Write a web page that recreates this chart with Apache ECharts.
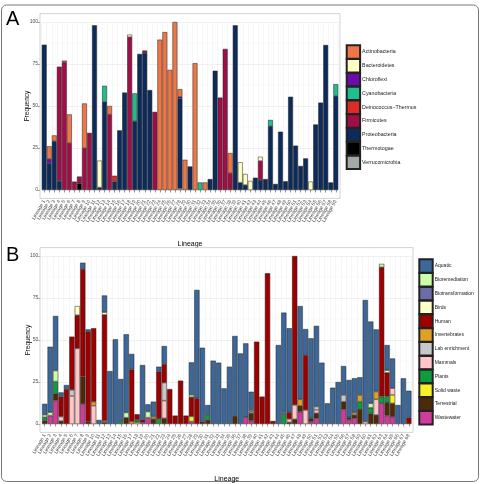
<!DOCTYPE html>
<html><head><meta charset="utf-8">
<script src="https://cdn.jsdelivr.net/npm/echarts@6/dist/echarts.min.js"></script>
<style>html,body{margin:0;padding:0;background:#fff}#c{width:481px;height:484px}</style>
</head><body><div id="c"></div>
<script>
// ---------- Panel A data (59 lineages) ----------
const categoriesA = Array.from({length: 59}, (_, i) => 'Lineage ' + (i + 1));
const phylaA = ['Actinobacteria','Bacteroidetes','Chloroflexi','Cyanobacteria','Deinococcus\u2212Thermus','Firmicutes','Proteobacteria','Thermotogae','Verrucomicrobia'];
const colorsA = ['#EF7747','#FFFFC4','#6E0CAA','#1FBE8F','#DF2A26','#A00D47','#0C2B5B','#000000','#A3A9A9'];
const actinobacteria = [0,7.5,3.5,0,1,17,0,0,26.5,0, 0,0,0,5,0,0,0,0,0,0, 0,0,0,89.5,94,71.5,100,4.5,18,0, 75.5,0,4.5,0,0,0,0,12,0,0, 0,0,0,0,0,0,0,0,0,0, 0,0,0,0,0,0,0,0,0];
const bacteroidetes = [0,0,0,0,0,0,0,0,0,0, 0,16,0,0,0,0,0,1.5,0,0, 0,0,0,0,0,0,0,0,0,0, 0,0,0,0,0,0,0,0,0,12.1, 6.5,5.4,0,2.5,0,0,0,0,0,0, 0,0,0,5,0,0,0,0,0];
const chloroflexi = [0,2.5,0,0,0,0,0,0,0,0, 0,0,0,0,0,0,0,0,0,0, 0,0,0,0,0,0,0,1,0,0, 0,0,0,0,0,0,0,0,0,0, 0,0,0,0,0,0,0,0,0,0, 0,0,0,0,0,0,0,0,0];
const cyanobacteria = [0,0,0,0,0,0,0,0,0,0, 0,0,9.5,0,0,0,0,0,16.5,0, 0,0,0,0,0,0,0,0,0,0, 0,4.5,0,0,0,0,0,0,0,0, 0,0,0,0,0,3.7,0,0,0,0, 0,0,0,0,0,0,0,0,7];
const deinococcus = [0,0,0,0,0,0,0,0,0,0, 0,0,0,0,3.5,0,0,0,0,0, 0,0,0,0,0,0,0,0,0,0, 0,0,0,0,0,0,0,0,0,0, 0,0,0,0,0,0,0,0,0,0, 0,0,0,0,0,0,0,0,0];
const firmicutes = [0,0,0,68,76,28,5,4,25,34, 0,0,0,45,0,0,0,91,0,0, 1.5,0,46.5,0,0,0,0,0,0,0, 0,0,0,0,0,55,84,10,0,0, 0,0,0,11.3,0,0,0,0,0,0, 0,0,0,0,0,0,0,0,0];
const proteobacteria = [86.5,16,29,5.4,0,0,0,0,0,0, 98,1.5,52.5,0,5,35.5,58,0,41,81, 81.5,59.5,0,0,0,0,0,53.5,0,14, 0,0,0,6.5,71,0,0,0,98,4.4, 3,0,7.3,6,6.5,38,3.6,34.7,5.2,55.5, 26.4,14.3,18.8,0,39,52,86.3,4.5,56];
const thermotogae = [0,0,0,0,0,0,0,4,0,0, 0,0,0,0,0,0,0,0,0,0, 0,0,0,0,0,0,0,0,0,0, 0,0,0,0,0,0,0,0,0,0, 0,0,0,0,0,0,0,0,0,0, 0,0,0,0,0,0,0,0,0];
const verrucomicrobia = [0,0,0,0,0,0,0,0,0,0, 0,0,0,0,0,0,0,0,0,0, 0,0,0,0,0,0,0,1,0,0, 0,0,0,0,0,0,0,0,0,0, 0,0,0,0,0,0,0,0,0,0, 0,0,0,0,0,0,0,0,0];
const valuesA = [actinobacteria,bacteroidetes,chloroflexi,cyanobacteria,deinococcus,firmicutes,proteobacteria,thermotogae,verrucomicrobia];

// ---------- Panel B data (68 lineages) ----------
const categoriesB = Array.from({length: 68}, (_, i) => 'Lineage ' + (i + 1));
const sourcesB = ['Aquatic','Bioremediation','Biotransformation','Birds','Human','Invertebrates','Lab enrichment','Mammals','Plants','Solid waste','Terrestrial','Wastewater'];
const colorsB = ['#3B679A','#CCFFAA','#6C6CA6','#FFFFC6','#9E0000','#DFA023','#C8C8C8','#FFC6CA','#0E9C3E','#FAF028','#4E2A0A','#D03C9C'];
const aquatic = [6.5,39,32.5,2.5,2.4,0,0,3.8,1.4,0, 2.4,10,31.5,50.4,25,46.6,9.2,0,32.6,4.3, 8.9,2.9,10.7,0,0,0,0,19.3,64.5,44, 5.9,37.7,36.5,21.2,34.1,47.6,42,44,10.8,0, 0,0,0,47,58.9,50,0,55.5,15.5,47.6, 48,36.5,12.3,21.6,25,17.2,22.2,20.4,10.5,72.4, 48.7,37,0,15,17.7,11.3,27.2,16];
const bioremediation = [1.5,2,6.5,0,0,0,0,0,0,0, 0,0,0,0,0,3,0,0,0,3.6, 0,0,0,0,0,0,0,1.4,0,0, 0,0,0,0,0,0,0,0,0,0, 0,0,0,0,0,0,0,0,0,0, 0,0,0,0,0,0,0,0,0,0, 2.6,0,2,0,0,0,0,0];
const biotransformation = [0,0,0,0,0,0,0,0,0,0, 0,0,0,0,0,0,0,0,0,0, 0,0,0,0,0,0,0,0,0,0, 0,0,0,0,0,0,0,0,0,0, 0,0,0,0,1.4,0,0,0,0,0, 0,0,0,0,0,0,0,0,0,0, 0,0,0,0,0,0,0,0];
const birds = [0,0,0,0,0,0,5.4,0,0,0, 0,1.5,0,0,0,0,0,0,0,0, 0,0,0,0,0,0,0,0,0,0, 0,0,0,0,0,0,0,0,0,0, 0,0,0,0,0,0,0,0,0,0, 0,0,0,0,0,0,0,0,0,0, 0,0,0,1.5,0,0,0,0];
const human = [0,0,0,11.9,20.8,31.7,19.8,64,53.5,43.7, 0,63,0,0,0,0,31,3.3,1.5,0, 0,28.2,11.1,20.8,5,25.8,5,11.5,15.3,0, 0,0,0,0,0,0,0,0,0,49, 16.3,89.7,1.8,0,0,4,88.7,0,32.7,0, 0,0,0,0,0,0,0,0,0,0, 0,0,77,14,0,0,0,3.8];
const invertebrates = [0,0,0,0,0,0,0,0,0,2.4, 0,1,0,0,0,0,1.5,0,0,0, 1.4,0,0,0,0,0,0,0,0,0, 0,0,0,0,0,0,0,0,1,0, 0,0,0,0,0,0,0,3.8,0,0, 0,0,0,0,0,0,0,1.4,4,0, 0,4.6,0,0,0,0,0,0];
const labEnrichment = [0,0,0,0,0,3.6,0,0,0,0, 0,0,0,0,0,0,0,0,0,0, 0,0,10.7,0,0,0,0,0,0,0, 0,0,0,0,0,0,0,0,1,0, 0,0,0,0,0,0,0,0,0,0, 2,0,0,0,0,4,0,0,0,0, 0,0,0,0,0,0,0,0];
const mammals = [0,0,0,2.6,0,16.7,45,0,0,10.9, 0,0,0,0,0,0,0,0,0,0, 0,0,10.5,0,0,0,0,0,0,0, 0,0,0,0,0,0,0,0,0,0, 0,0,0,0,0,2,8.5,0,8.3,0, 2,0,0,0,0,0,0,0,0,1.4, 0,9.3,0,0,4,0,0,0];
const plants = [2,0,7.3,0,0,0,0,0,0,0, 0,0,0,0,1.8,0,0,1.5,0,0, 0,3,0,0,0,0,0,0,0,0, 3,0,0,0,0,0,0,0,0,0, 0,0,0,0,6,0,0,0,0,0, 0,0,0,0,0,0,0,0,4.4,0, 3.4,0,4,3.5,0,0,0,0];
const solidWaste = [0,0,0,0,0,0,0,0,0,0, 0,0,0,0,0,0,0,1,0,0, 0,0,0,0,0,0,0,3,0,0, 0,0,0,0,0,0,0,0,0,0, 0,0,0,0,0,0,0,0,0,0, 0,0,0,0,0,0,0,0,0,0, 0,0,0,0,5,0,0,0];
const terrestrial = [2,0,4,1.8,0,0,0,16.3,1.4,0, 0,1,0,0,0,3.8,0,0,0,0, 3,0,3.4,0,0,0,0,0,0,1.4, 2.4,0,0,0,0,4.8,0,0,4.4,0, 0,0,0,0,0,1,2.8,3.6,0,2, 3,0,0,0,0,4.6,1.4,2,8.9,0, 6.3,5.4,0,8,8,0,0,0];
const wastewater = [0,5,14,0,0,0,0,11.9,0,0, 0,0,0,0,0,0,0,0,1,3.8, 0,0,0,0,0,0,0,1.5,0,0, 0,0,0,0,0,0,0,4,2,0, 0,0,0,0,0,0,0,7.3,0,1.4, 3.4,0,0,0,0,8.7,2.6,3.4,0,0, 0,0,12.3,5,4.3,0,0,0];
const valuesB = [aquatic,bioremediation,biotransformation,birds,human,invertebrates,labEnrichment,mammals,plants,solidWaste,terrestrial,wastewater];

const yTicks = [0, 25, 50, 75, 100];

// ---------- chart ----------
const FONT = 'Liberation Sans';
const chart = echarts.init(document.getElementById('c'), null, {renderer: 'canvas'});

function mkX(gridIndex, data, nameGap) {
  return {
    type: 'category', gridIndex, data, offset: 8.4,
    axisLine: {show: false},
    axisTick: {show: true, alignWithLabel: true, length: 2.5, lineStyle: {color: '#333', width: 0.5}},
    axisLabel: {rotate: 60, fontSize: 5, color: '#4d4d4d', interval: 0, margin: 2, fontFamily: FONT},
    splitLine: {show: true, interval: 0, lineStyle: {color: '#ececec', width: 0.5}},
    name: 'Lineage', nameLocation: 'middle', nameGap,
    nameTextStyle: {fontSize: 7, color: '#000', fontFamily: FONT}
  };
}
function mkY(gridIndex) {
  return {
    type: 'value', gridIndex, min: 0, max: 100, interval: 25, offset: 1.7,
    axisLine: {show: false},
    axisTick: {show: true, length: 2, lineStyle: {color: '#333', width: 0.5}},
    axisLabel: {fontSize: 5, color: '#4d4d4d', margin: 2, fontFamily: FONT,
      formatter: v => yTicks.includes(v) ? String(v) : ''},
    splitLine: {show: true, lineStyle: {color: '#e6e6e6', width: 0.6}},
    minorTick: {show: false, splitNumber: 2},
    minorSplitLine: {show: true, lineStyle: {color: '#f3f3f3', width: 0.4}},
    name: 'Frequency', nameLocation: 'middle', nameGap: 9, nameMoveOverlap: false,
    nameTextStyle: {fontSize: 6.5, color: '#000', fontFamily: FONT}
  };
}
function mkSeries(names, colors, values, axisIdx, stack) {
  const out = [];
  for (let k = names.length - 1; k >= 0; k--) {
    out.push({
      name: names[k], type: 'bar', stack, xAxisIndex: axisIdx, yAxisIndex: axisIdx,
      barCategoryGap: '4%',
      data: values[k].map(v => v === 0 ? '-' : v),
      itemStyle: {color: colors[k], borderColor: '#222', borderWidth: 0.5},
      emphasis: {disabled: true}, animation: false
    });
  }
  return out;
}
function mkLegend(names, left, top, fs) {
  return {
    data: names, orient: 'vertical', left, top, padding: 0, icon: 'rect',
    itemWidth: 13.4, itemHeight: 13.4, itemGap: -1.6, selectedMode: false,
    textStyle: {fontSize: fs, color: '#1a1a1a', fontFamily: FONT, padding: [0, 0, 0, -3]}
  };
}

const option = {
  animation: false,
  textStyle: {fontFamily: FONT},
  grid: [
    {left: 41.7, top: 22, width: 296.6, height: 168},
    {left: 42, top: 256, width: 369.5, height: 168}
  ],
  xAxis: [mkX(0, categoriesA, 42), mkX(1, categoriesB, 43)],
  yAxis: [mkY(0), mkY(1)],
  legend: [mkLegend(phylaA, 345.7, 44.3, 5.3), mkLegend(sourcesB, 418.3, 258.3, 5)],
  series: [].concat(
    mkSeries(phylaA, colorsA, valuesA, 0, 'A'),
    mkSeries(sourcesB, colorsB, valuesB, 1, 'B')
  ),
  graphic: [
    {type: 'rect', shape: {x: 1.5, y: 5, width: 477, height: 476.5, r: 5}, style: {fill: 'none', stroke: '#777', lineWidth: 1}, silent: true},
    {type: 'rect', shape: {x: 40, y: 13.6, width: 300, height: 184.8}, style: {fill: 'none', stroke: '#c8c8c8', lineWidth: 0.8}, silent: true, z: 100},
    {type: 'rect', shape: {x: 40, y: 247.6, width: 373, height: 184.8}, style: {fill: 'none', stroke: '#c8c8c8', lineWidth: 0.8}, silent: true, z: 100},
    {type: 'text', style: {text: 'A', x: 6, y: 9, font: '20px Liberation Sans', fill: '#000', align: 'left', verticalAlign: 'top'}, silent: true},
    {type: 'text', style: {text: 'B', x: 6, y: 245, font: '20px Liberation Sans', fill: '#000', align: 'left', verticalAlign: 'top'}, silent: true}
  ]
};
chart.setOption(option);
</script>
</body></html>
